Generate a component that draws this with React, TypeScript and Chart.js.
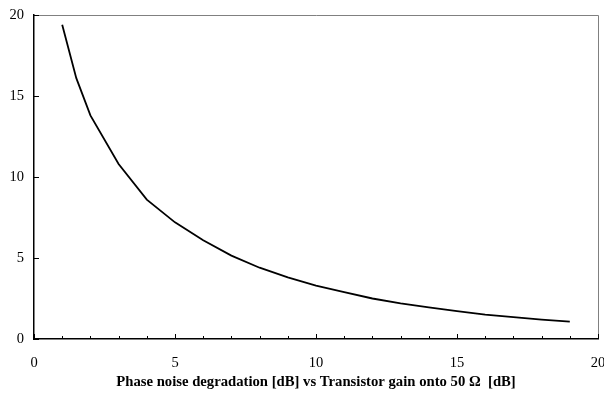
import React, { useEffect, useRef } from "react";
import { Chart, registerables } from "chart.js";

Chart.register(...registerables);

const gainDb = [1, 1.5, 2, 3, 4, 5, 6, 7, 8, 9, 10, 11, 12, 13, 14, 15, 16, 17, 18, 19];
const degradationDb = [19.4, 16.1, 13.8, 10.8, 8.6, 7.2, 6.1, 5.15, 4.4, 3.8, 3.3, 2.9, 2.5, 2.2, 1.95, 1.72, 1.5, 1.35, 1.2, 1.07];
const xTicks = [0, 5, 10, 15, 20];
const yTicks = [0, 5, 10, 15, 20];
const xMinorTicks = [1, 2, 3, 4, 6, 7, 8, 9, 11, 12, 13, 14, 16, 17, 18, 19];
const axisTitle = "Phase noise degradation [dB] vs Transistor gain onto 50 \u03A9  [dB]";

const FONT = "'Liberation Serif', 'Times New Roman', serif";

const framePlugin = {
  id: "frameTicks",
  afterDraw(chart: any) {
    const { ctx, chartArea } = chart;
    const { left, right, top, bottom } = chartArea;
    const xs = chart.scales.x;
    const ys = chart.scales.y;
    ctx.save();
    ctx.strokeStyle = "#808080";
    ctx.lineWidth = 1;
    ctx.beginPath();
    ctx.moveTo(left, top + 0.5);
    ctx.lineTo(right + 0.5, top + 0.5);
    ctx.lineTo(right + 0.5, bottom);
    ctx.stroke();
    ctx.strokeStyle = "#000";
    ctx.lineWidth = 1;
    ctx.beginPath();
    xTicks.forEach((v) => {
      const px = Math.round(xs.getPixelForValue(v)) + 0.5;
      ctx.moveTo(px, bottom);
      ctx.lineTo(px, bottom - 5);
    });
    xMinorTicks.forEach((v) => {
      const px = Math.round(xs.getPixelForValue(v)) + 0.5;
      ctx.moveTo(px, bottom);
      ctx.lineTo(px, bottom - 3);
    });
    yTicks.forEach((v) => {
      const py = Math.round(ys.getPixelForValue(v)) + 0.5;
      ctx.moveTo(left, py);
      ctx.lineTo(left + 5, py);
    });
    ctx.stroke();
    ctx.restore();
  },
};

export default function App() {
  const ref = useRef<HTMLCanvasElement | null>(null);
  useEffect(() => {
    document.body.style.margin = "0";
    const canvas = ref.current;
    if (!canvas) return;
    const chart = new Chart(canvas, {
      type: "line",
      data: {
        datasets: [
          {
            data: gainDb.map((x, i) => ({ x, y: degradationDb[i] })),
            borderColor: "#000",
            borderWidth: 1.8,
            pointRadius: 0,
            tension: 0,
            fill: false,
          },
        ],
      },
      options: {
        responsive: false,
        animation: false,
        devicePixelRatio: 1,
        layout: { padding: { top: 15, right: 6, left: 0, bottom: 0 } },
        plugins: { legend: { display: false }, tooltip: { enabled: false } },
        scales: {
          x: {
            type: "linear",
            min: 0,
            max: 20,
            afterBuildTicks: (s: any) => {
              s.ticks = xTicks.map((v) => ({ value: v }));
            },
            afterFit: (s: any) => {
              s.height = 58;
              s.paddingLeft = 0;
              s.paddingRight = 0;
            },
            grid: { display: true, drawOnChartArea: false, drawTicks: false },
            border: { display: true, color: "#000", width: 1.5 },
            ticks: {
              padding: 15,
              color: "#000",
              font: { family: FONT, size: 14.5 },
              maxRotation: 0,
            },
            title: {
              display: true,
              text: axisTitle,
              color: "#000",
              font: { family: FONT, size: 14.7, weight: "bold" },
              padding: { top: 0, bottom: 6 },
            },
          },
          y: {
            type: "linear",
            min: 0,
            max: 20,
            afterBuildTicks: (s: any) => {
              s.ticks = yTicks.map((v) => ({ value: v }));
            },
            afterFit: (s: any) => {
              s.width = 34;
              s.paddingTop = 0;
              s.paddingBottom = 0;
            },
            grid: { display: true, drawOnChartArea: false, drawTicks: false },
            border: { display: true, color: "#000", width: 1.5 },
            ticks: {
              padding: 10,
              color: "#000",
              font: { family: FONT, size: 14.5 },
            },
          },
        },
      },
      plugins: [framePlugin],
    } as any);
    return () => chart.destroy();
  }, []);
  return (
    <div style={{ width: 604, height: 397, background: "#fff" }}>
      <canvas ref={ref} width={604} height={397} style={{ display: "block" }} />
    </div>
  );
}
